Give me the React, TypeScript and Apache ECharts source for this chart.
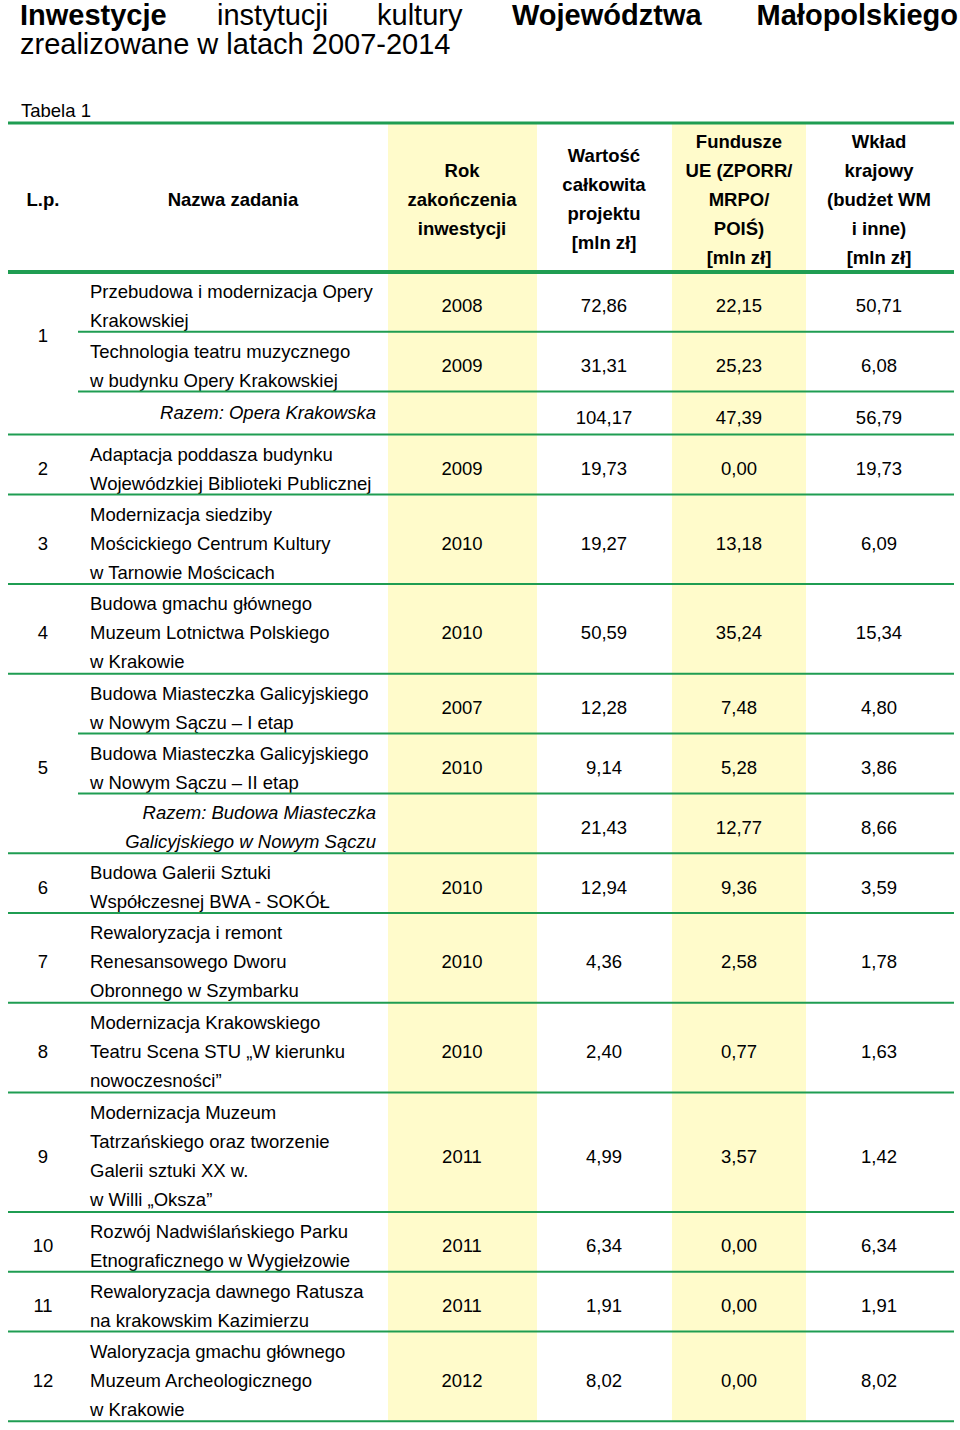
import React, { useEffect, useRef } from "react";
import * as echarts from "echarts";

// ---------- DATA ----------
const titleWords = ["Inwestycje", "instytucji", "kultury", "Województwa", "Małopolskiego"];
const titleWordBold = [true, false, false, true, true];
const titleLine2 = "zrealizowane w latach 2007-2014";
const tableCaption = "Tabela 1";
const headerLabels = [
  "L.p.",
  "Nazwa zadania",
  "Rok\nzakończenia\ninwestycji",
  "Wartość\ncałkowita\nprojektu\n[mln zł]",
  "Fundusze\nUE (ZPORR/\nMRPO/\nPOIŚ)\n[mln zł]",
  "Wkład\nkrajowy\n(budżet WM\ni inne)\n[mln zł]",
];

const taskNames = [
  "Przebudowa i modernizacja Opery\nKrakowskiej",
  "Technologia teatru muzycznego\nw budynku Opery Krakowskiej",
  "Razem: Opera Krakowska",
  "Adaptacja poddasza budynku\nWojewódzkiej Biblioteki Publicznej",
  "Modernizacja siedziby\nMościckiego Centrum Kultury\nw Tarnowie Mościcach",
  "Budowa gmachu głównego\nMuzeum Lotnictwa Polskiego\nw Krakowie",
  "Budowa Miasteczka Galicyjskiego\nw Nowym Sączu – I etap",
  "Budowa Miasteczka Galicyjskiego\nw Nowym Sączu – II etap",
  "Razem: Budowa Miasteczka\nGalicyjskiego w Nowym Sączu",
  "Budowa Galerii Sztuki\nWspółczesnej BWA - SOKÓŁ",
  "Rewaloryzacja i remont\nRenesansowego Dworu\nObronnego w Szymbarku",
  "Modernizacja Krakowskiego\nTeatru Scena STU „W kierunku\nnowoczesności”",
  "Modernizacja Muzeum\nTatrzańskiego oraz tworzenie\nGalerii sztuki XX w.\nw Willi „Oksza”",
  "Rozwój Nadwiślańskiego Parku\nEtnograficznego w Wygiełzowie",
  "Rewaloryzacja dawnego Ratusza\nna krakowskim Kazimierzu",
  "Waloryzacja gmachu głównego\nMuzeum Archeologicznego\nw Krakowie",
];
// "part" = part of a grouped task, "total" = group sum, "item" = single task
const rowKinds = ["part", "part", "total", "item", "item", "item", "part", "part", "total", "item", "item", "item", "item", "item", "item", "item"];
const completionYears = [2008, 2009, null, 2009, 2010, 2010, 2007, 2010, null, 2010, 2010, 2010, 2011, 2011, 2011, 2012];
const totalValues = [72.86, 31.31, 104.17, 19.73, 19.27, 50.59, 12.28, 9.14, 21.43, 12.94, 4.36, 2.4, 4.99, 6.34, 1.91, 8.02];
const euFunds = [22.15, 25.23, 47.39, 0.0, 13.18, 35.24, 7.48, 5.28, 12.77, 9.36, 2.58, 0.77, 3.57, 0.0, 0.0, 0.0];
const nationalFunds = [50.71, 6.08, 56.79, 19.73, 6.09, 15.34, 4.8, 3.86, 8.66, 3.59, 1.78, 1.63, 1.42, 6.34, 1.91, 8.02];

const lpLabels = ["1", "2", "3", "4", "5", "6", "7", "8", "9", "10", "11", "12"];
const lpFirstRow = [0, 3, 4, 5, 6, 9, 10, 11, 12, 13, 14, 15];
const lpRowCount = [2, 1, 1, 1, 3, 1, 1, 1, 1, 1, 1, 1];

// ---------- LAYOUT ----------
const W = 960;
const H = 1430;
const FAMILY = "'Liberation Sans', Arial, Helvetica, sans-serif";
const FS = 18.5;
const ROW_LINE_H = 29.9; // row height per text line
const TEXT_LINE_H = 29; // text line spacing
const SINGLE_TOTAL_H = 43;
const ROW_TEXT_SHIFT = 4;
const TABLE_TOP = 123;
const HEADER_BOTTOM = 272;
const X_LEFT = 8;
const X_SUB = 78;
const X_RIGHT = 954;
const COL_CENTERS = [43, 233, 462, 604, 739, 879];
const NAME_X = 90;
const TOTAL_RIGHT = 376;
const YELLOW_COLS = [
  [388, 537],
  [672, 806],
];
const GREEN = "#1f9d52";
const YELLOW = "#fffbcb";

const font = (size: number, bold = false, italic = false) =>
  `${italic ? "italic " : ""}${bold ? "bold " : ""}${size}px ${FAMILY}`;

const txt = (
  text: string,
  x: number,
  y: number,
  opts: { size?: number; bold?: boolean; italic?: boolean; align?: string; lh?: number } = {}
) => {
  const align = opts.align || "left";
  const lh = opts.lh || TEXT_LINE_H;
  return {
    type: "text",
    x,
    y,
    style: {
      text,
      font: font(opts.size || FS, !!opts.bold, !!opts.italic),
      fill: "#000",
      textFill: "#000",
      align,
      textAlign: align,
      verticalAlign: "middle",
      textVerticalAlign: "middle",
      lineHeight: lh,
      textLineHeight: lh,
    },
  };
};

const fmt = (v: number) => v.toFixed(2).replace(".", ",");

const rowHeights = taskNames.map((n, i) => {
  const lines = n.split("\n").length;
  return rowKinds[i] === "total" && lines === 1 ? SINGLE_TOTAL_H : lines * ROW_LINE_H;
});
const rowTops: number[] = [];
rowHeights.reduce((acc, h) => {
  rowTops.push(acc);
  return acc + h;
}, HEADER_BOTTOM);
const tableBottom = rowTops[rowTops.length - 1] + rowHeights[rowHeights.length - 1];

export default function App() {
  const ref = useRef<HTMLDivElement>(null);

  useEffect(() => {
    if (!ref.current) return;
    const chart = echarts.init(ref.current, undefined, { renderer: "svg" });

    const graphics: any[] = [];
    // yellow columns
    YELLOW_COLS.forEach(([a, b]) => {
      graphics.push({
        type: "rect",
        shape: { x: a, y: TABLE_TOP, width: b - a, height: tableBottom - TABLE_TOP },
        style: { fill: YELLOW },
      });
    });
    // title
    const titleX = [20, 217, 377, 512, 958];
    titleWords.forEach((w, i) => {
      graphics.push(
        txt(w, titleX[i], 15, {
          size: 29,
          bold: titleWordBold[i],
          align: i === titleWords.length - 1 ? "right" : "left",
          lh: 24,
        })
      );
    });
    graphics.push(txt(titleLine2, 20, 44, { size: 29, lh: 24 }));
    graphics.push(txt(tableCaption, 21, 110.5));
    // header
    const headerMid = (TABLE_TOP + HEADER_BOTTOM) / 2 + 1.5;
    headerLabels.forEach((h, i) => {
      graphics.push(txt(h, COL_CENTERS[i], headerMid, { bold: true, align: "center", lh: 29 }));
    });
    graphics.push({
      type: "line",
      shape: { x1: X_LEFT, y1: TABLE_TOP, x2: X_RIGHT, y2: TABLE_TOP },
      style: { stroke: GREEN, lineWidth: 3 },
    });
    graphics.push({
      type: "line",
      shape: { x1: X_LEFT, y1: HEADER_BOTTOM, x2: X_RIGHT, y2: HEADER_BOTTOM },
      style: { stroke: GREEN, lineWidth: 4 },
    });

    const rowData = taskNames.map((_, i) => [i, rowTops[i], rowHeights[i]]);

    chart.setOption({
      animation: false,
      backgroundColor: "#ffffff",
      grid: { left: 0, right: 0, top: 0, bottom: 0 },
      xAxis: { type: "value", min: 0, max: W, show: false },
      yAxis: { type: "value", min: 0, max: H, inverse: true, show: false },
      graphic: { elements: graphics },
      series: [
        {
          type: "custom",
          data: rowData,
          silent: true,
          renderItem: (params: any, api: any) => {
            const i = params.dataIndex;
            const top = api.value(1) as number;
            const h = api.value(2) as number;
            const mid = top + h / 2 + ROW_TEXT_SHIFT;
            const kind = rowKinds[i];
            const children: any[] = [];
            const pt = (x: number, y: number) => api.coord([x, y]);

            if (kind === "total") {
              const single = taskNames[i].indexOf("\n") < 0;
              const [x, y] = pt(TOTAL_RIGHT, single ? mid - 5 : mid);
              children.push(txt(taskNames[i], x, y, { italic: true, align: "right" }));
            } else {
              const [x, y] = pt(NAME_X, mid);
              children.push(txt(taskNames[i], x, y));
            }
            const yr = completionYears[i];
            if (yr !== null) {
              const [x, y] = pt(COL_CENTERS[2], mid);
              children.push(txt(String(yr), x, y, { align: "center" }));
            }
            [totalValues[i], euFunds[i], nationalFunds[i]].forEach((v, k) => {
              const [x, y] = pt(COL_CENTERS[3 + k], mid);
              children.push(txt(fmt(v), x, y, { align: "center" }));
            });
            const lpIdx = lpFirstRow.indexOf(i);
            if (lpIdx >= 0) {
              let spanH = 0;
              for (let r = i; r < i + lpRowCount[lpIdx]; r++) spanH += rowHeights[r];
              const [x, y] = pt(COL_CENTERS[0], top + spanH / 2 + ROW_TEXT_SHIFT);
              children.push(txt(lpLabels[lpIdx], x, y, { align: "center" }));
            }
            const [lx1, ly] = pt(kind === "part" ? X_SUB : X_LEFT, top + h);
            const [lx2] = pt(X_RIGHT, top + h);
            children.push({
              type: "line",
              shape: { x1: lx1, y1: ly, x2: lx2, y2: ly },
              style: { stroke: GREEN, lineWidth: 2 },
            });
            return { type: "group", children };
          },
        },
      ],
    });

    return () => chart.dispose();
  }, []);

  return (
    <div
      ref={ref}
      style={{ position: "absolute", left: 0, top: 0, width: W, height: H, background: "#fff" }}
    />
  );
}
